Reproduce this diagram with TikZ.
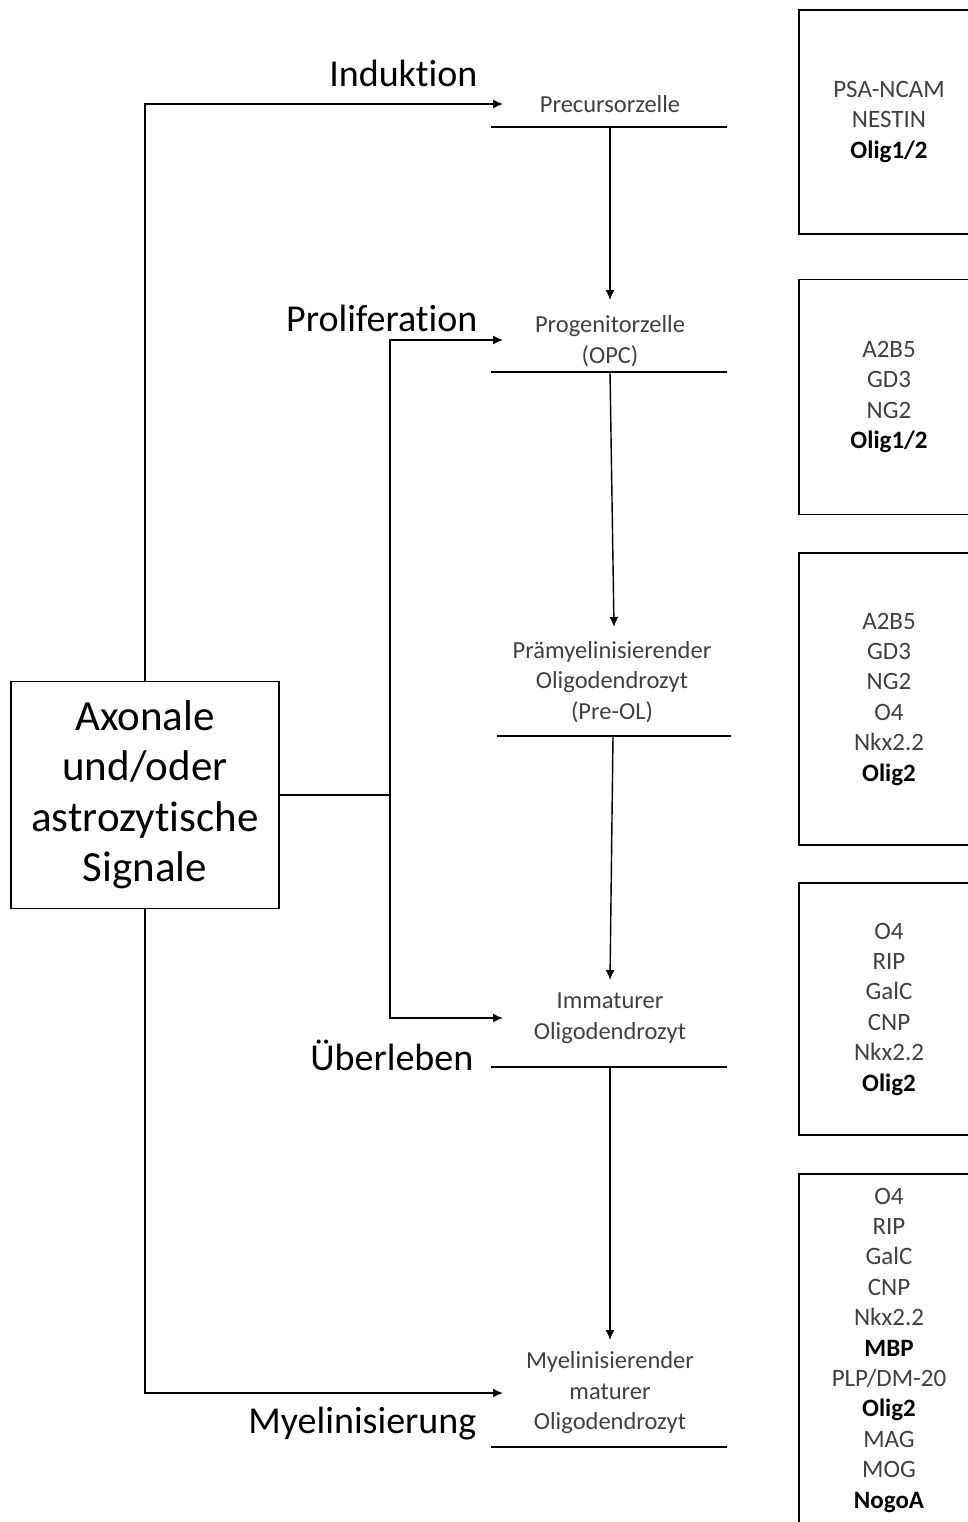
\documentclass[tikz,border=0pt]{standalone}
\usepackage{fontspec}
\setmainfont{Carlito}[Ligatures=NoCommon]
\usetikzlibrary{arrows.meta,positioning}
\definecolor{markgray}{HTML}{404040}

\begin{document}
\begin{tikzpicture}[x=1pt,y=-1pt,line width=1.4pt,
  stage/.style={align=center,inner sep=0pt,text=markgray,font=\fontsize{24.5}{30.5}\selectfont},
  effect/.style={anchor=east,inner sep=0pt,font=\fontsize{38}{44}\selectfont},
  markers/.style={draw,align=center,minimum width=180pt,text=markgray,font=\fontsize{25}{30.4}\selectfont},
  tip/.style={-{Latex[length=10pt,width=9pt]}}]
\useasboundingbox (0,0) rectangle (968,1522);
\clip (0,0) rectangle (968,1522);

% signal box
\node (signal) at (145,795) [draw,minimum width=268pt,minimum height=227pt,align=center,
  font=\fontsize{43}{50.5}\selectfont] {Axonale\\und/oder\\astrozytische\\Signale};

% stages
\node (pre) at (610,104) [stage] {Precursorzelle};
\node (opc) at (610,341) [stage] {Progenitorzelle\\(OPC)};
\node (preol) at (612,682) [stage] {Prämyelinisierender\\Oligodendrozyt\\(Pre-OL)};
\node (imm) at (610,1018) [stage] {Immaturer\\Oligodendrozyt};
\node (mat) at (610,1393) [stage] {Myelinisierender\\maturer\\Oligodendrozyt};

\draw (491,127) -- (727,127);
\draw (491,372) -- (727,372);
\draw (497,736) -- (731,736);
\draw (491,1067) -- (727,1067);
\draw (491,1447) -- (727,1447);

% effects
\node (ind) at (478,73) [effect] {Induktion};
\node (prol) at (478,318) [effect] {Proliferation};
\node (surv) at (474,1055) [effect] {Überleben};
\node (myel) at (477,1424) [effect] {Myelinisierung};

% marker boxes
\node (m1) at (889,122) [markers,minimum height=224pt] {PSA-NCAM\\NESTIN\\\textbf{\color{black}Olig1/2}};
\node (m2) at (889,397) [markers,minimum height=235pt] {A2B5\\GD3\\NG2\\\textbf{\color{black}Olig1/2}};
\node (m3) at (889,699) [markers,minimum height=292pt] {A2B5\\GD3\\NG2\\O4\\Nkx2.2\\\textbf{\color{black}Olig2}};
\node (m4) at (889,1009) [markers,minimum height=252pt] {O4\\RIP\\GalC\\CNP\\Nkx2.2\\\textbf{\color{black}Olig2}};
\node (m5) at (889,1350) [markers,minimum height=352pt] {O4\\RIP\\GalC\\CNP\\Nkx2.2\\\textbf{\color{black}MBP}\\PLP/DM-20\\\textbf{\color{black}Olig2}\\MAG\\MOG\\\textbf{\color{black}NogoA}};

% connectors
\coordinate (fork) at (390,795);
\coordinate (in1) at (503,104);
\coordinate (in2) at (503,340);
\coordinate (in3) at (503,1018);
\coordinate (in4) at (503,1393);
\draw [tip] (signal.north) |- (in1);
\draw (signal.east) -- (fork);
\draw [tip] (fork) |- (in2);
\draw [tip] (fork) |- (in3);
\draw [tip] (signal.south) |- (in4);

\coordinate (d1) at (610,127);
\coordinate (d2) at (610,372);
\coordinate (d3) at (613,736);
\coordinate (d4) at (610,1067);
\draw [tip] (d1) -- (610,300);
\draw [tip] (d2) -- (614,627);
\draw [tip] (d3) -- (610,980);
\draw [tip] (d4) -- (610,1340);
\end{tikzpicture}
\end{document}
